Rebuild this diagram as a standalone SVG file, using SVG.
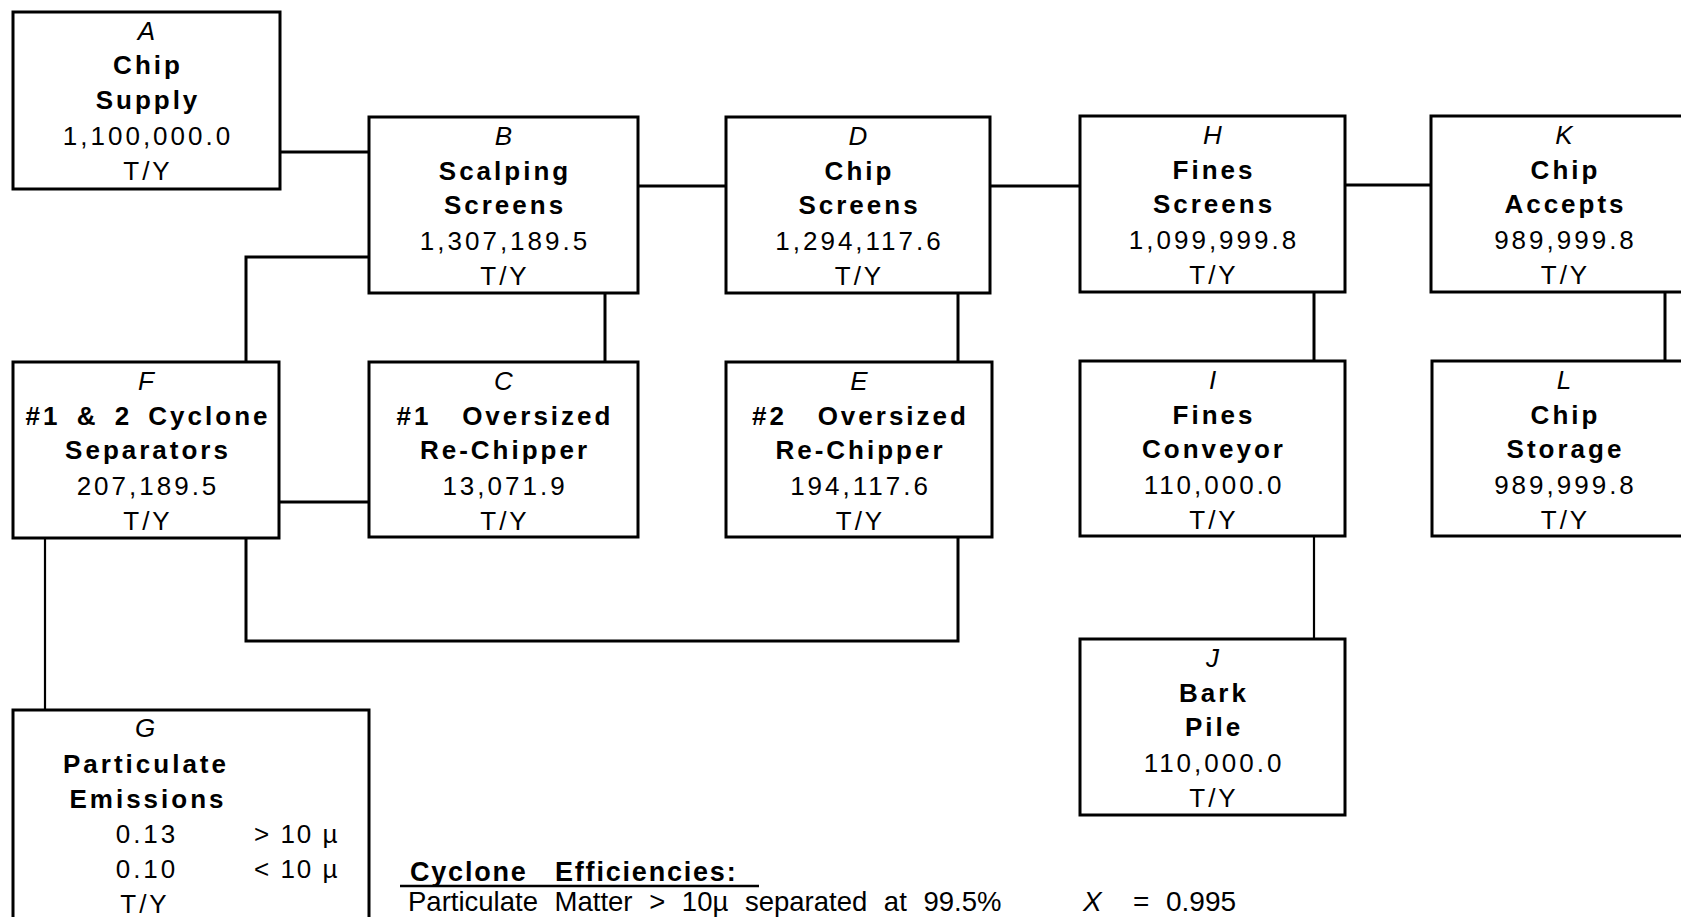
<svg xmlns="http://www.w3.org/2000/svg" width="1681" height="917" viewBox="0 0 1681 917">
<style>
  .box { fill: #fff; stroke: #000; stroke-width: 3; }
  .conn { fill: none; stroke: #000; stroke-width: 3; }
  .thin { stroke-width: 2.2; }
  text { font-family: "Liberation Sans", Arial, sans-serif; font-size: 26px; fill: #000; letter-spacing: 3px; text-anchor: middle; }
  .id { font-style: italic; letter-spacing: 0; }
  .b { font-weight: bold; }
  .foot { font-size: 27.5px; text-anchor: start; letter-spacing: 0; }
</style>
<rect width="1681" height="917" fill="#fff"/>
<g id="connectors">
  <path class="conn" d="M280,152 H369"/>
  <path class="conn" d="M638,186 H726"/>
  <path class="conn" d="M990,186 H1080"/>
  <path class="conn" d="M1345,185 H1431"/>
  <path class="conn" d="M369,257 H246 V362"/>
  <path class="conn" d="M605,293 V362"/>
  <path class="conn" d="M958,293 V362"/>
  <path class="conn" d="M1314,292 V361"/>
  <path class="conn" d="M1665,292 V361"/>
  <path class="conn" d="M279,502 H369"/>
  <path class="conn" d="M246,538 V641 H958 V537"/>
  <path class="conn thin" d="M45,538 V710"/>
  <path class="conn thin" d="M1314,536 V639"/>
</g>
<g id="A">
  <rect class="box" x="13" y="12" width="267" height="177"/>
  <text x="146.5" y="40" class="id">A</text>
  <text x="148" y="74" class="b">Chip</text>
  <text x="148" y="109" class="b">Supply</text>
  <text x="148" y="145">1,100,000.0</text>
  <text x="148" y="180">T/Y</text>
</g>
<g id="B">
  <rect class="box" x="369" y="117" width="269" height="176"/>
  <text x="503.5" y="145" class="id">B</text>
  <text x="505" y="180" class="b">Scalping</text>
  <text x="505" y="214" class="b">Screens</text>
  <text x="505" y="250">1,307,189.5</text>
  <text x="505" y="285">T/Y</text>
</g>
<g id="D">
  <rect class="box" x="726" y="117" width="264" height="176"/>
  <text x="858" y="145" class="id">D</text>
  <text x="859.5" y="180" class="b">Chip</text>
  <text x="859.5" y="214" class="b">Screens</text>
  <text x="859.5" y="250">1,294,117.6</text>
  <text x="859.5" y="285">T/Y</text>
</g>
<g id="H">
  <rect class="box" x="1080" y="116" width="265" height="176"/>
  <text x="1212.5" y="144" class="id">H</text>
  <text x="1214" y="179" class="b">Fines</text>
  <text x="1214" y="213" class="b">Screens</text>
  <text x="1214" y="249">1,099,999.8</text>
  <text x="1214" y="284">T/Y</text>
</g>
<g id="K">
  <rect class="box" x="1431" y="116" width="266" height="176"/>
  <text x="1564" y="144" class="id">K</text>
  <text x="1565.5" y="179" class="b">Chip</text>
  <text x="1565.5" y="213" class="b">Accepts</text>
  <text x="1565.5" y="249">989,999.8</text>
  <text x="1565.5" y="284">T/Y</text>
</g>
<g id="F">
  <rect class="box" x="13" y="362" width="266" height="176"/>
  <text x="146" y="390" class="id">F</text>
  <text x="148" y="425" class="b" style="word-spacing:6px">#1 &amp; 2 Cyclone</text>
  <text x="148" y="459" class="b">Separators</text>
  <text x="148" y="495">207,189.5</text>
  <text x="148" y="530">T/Y</text>
</g>
<g id="C">
  <rect class="box" x="369" y="362" width="269" height="175"/>
  <text x="503.5" y="390" class="id">C</text>
  <text x="505" y="425" class="b" xml:space="preserve">#1   Oversized</text>
  <text x="505" y="459" class="b">Re-Chipper</text>
  <text x="505" y="495">13,071.9</text>
  <text x="505" y="530">T/Y</text>
</g>
<g id="E">
  <rect class="box" x="726" y="362" width="266" height="175"/>
  <text x="859" y="390" class="id">E</text>
  <text x="860.5" y="425" class="b" xml:space="preserve">#2   Oversized</text>
  <text x="860.5" y="459" class="b">Re-Chipper</text>
  <text x="860.5" y="495">194,117.6</text>
  <text x="860.5" y="530">T/Y</text>
</g>
<g id="I">
  <rect class="box" x="1080" y="361" width="265" height="175"/>
  <text x="1212.5" y="389" class="id">I</text>
  <text x="1214" y="424" class="b">Fines</text>
  <text x="1214" y="458" class="b">Conveyor</text>
  <text x="1214" y="494">110,000.0</text>
  <text x="1214" y="529">T/Y</text>
</g>
<g id="L">
  <rect class="box" x="1432" y="361" width="266" height="175"/>
  <text x="1564" y="389" class="id">L</text>
  <text x="1565.5" y="424" class="b">Chip</text>
  <text x="1565.5" y="458" class="b">Storage</text>
  <text x="1565.5" y="494">989,999.8</text>
  <text x="1565.5" y="529">T/Y</text>
</g>
<g id="J">
  <rect class="box" x="1080" y="639" width="265" height="176"/>
  <text x="1212.5" y="667" class="id">J</text>
  <text x="1214" y="702" class="b">Bark</text>
  <text x="1214" y="736" class="b">Pile</text>
  <text x="1214" y="772">110,000.0</text>
  <text x="1214" y="807">T/Y</text>
</g>
<g id="G">
  <rect class="box" x="13" y="710" width="356" height="260"/>
  <text x="145" y="737" class="id">G</text>
  <text x="146" y="773" class="b">Particulate</text>
  <text x="148" y="808" class="b">Emissions</text>
  <text x="147" y="843">0.13</text>
  <text x="147" y="878">0.10</text>
  <text x="254" y="843" style="text-anchor:start;letter-spacing:2px" xml:space="preserve">&gt; 10 µ</text>
  <text x="254" y="878" style="text-anchor:start;letter-spacing:2px" xml:space="preserve">&lt; 10 µ</text>
  <text x="145" y="913">T/Y</text>
</g>
<g id="notes">
  <text class="foot b" x="410" y="881" style="font-size:27px;letter-spacing:1.8px">Cyclone<tspan x="555">Efficiencies:</tspan></text>
  <line x1="400" y1="886" x2="759" y2="886" stroke="#000" stroke-width="2.5"/>
  <text class="foot" x="408" y="911" style="word-spacing:9px">Particulate Matter &gt; 10µ separated at 99.5%</text>
  <text class="foot" x="1083" y="911" style="font-style:italic;font-size:28px">X</text>
  <text class="foot" x="1133" y="911" style="font-size:28px">=</text>
  <text class="foot" x="1166" y="911" style="font-size:28px">0.995</text>
</g>
</svg>
